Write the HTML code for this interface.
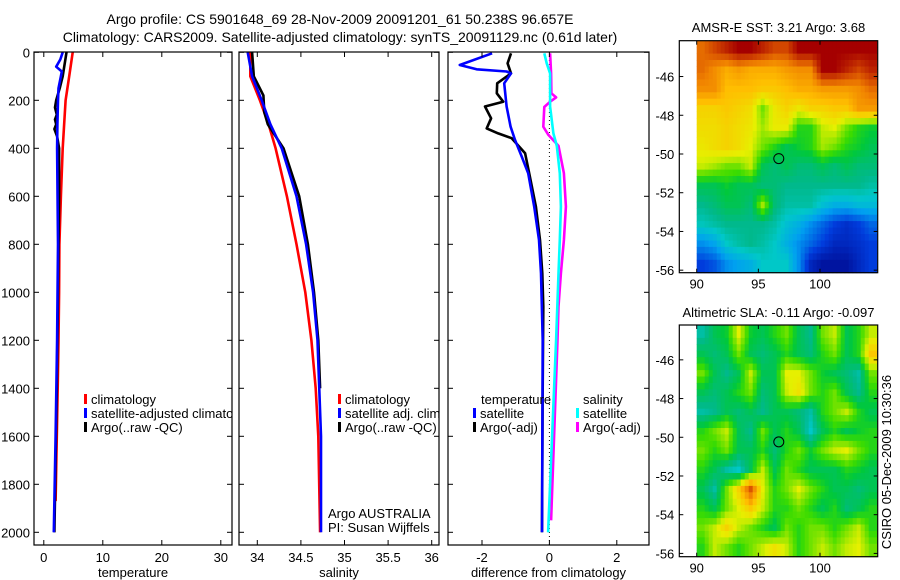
<!DOCTYPE html>
<html><head><meta charset="utf-8"><style>
body{margin:0;background:#fff}
svg{display:block;font-family:"Liberation Sans",sans-serif}
</style></head><body>
<svg id="c" width="900" height="580" viewBox="0 0 900 580">
<text x="340" y="24" font-size="14" text-anchor="middle">Argo profile: CS 5901648_69 28-Nov-2009 20091201_61 50.238S 96.657E</text>
<text x="340" y="42" font-size="14" text-anchor="middle">Climatology: CARS2009. Satellite-adjusted climatology: synTS_20091129.nc (0.61d later)</text>
<defs>
<clipPath id="cp1"><rect x="34" y="52" width="198" height="493"/></clipPath>
<clipPath id="cp2"><rect x="239" y="52" width="200" height="493"/></clipPath>
<clipPath id="cp3"><rect x="448" y="52" width="201" height="493"/></clipPath>
</defs>
<g id="g1" clip-path="url(#cp1)"></g>
<g id="g2" clip-path="url(#cp2)"></g>
<g id="g3" clip-path="url(#cp3)"></g>
<g id="axes"></g>
<g id="maps"></g>
</svg>
<script>
// ---- profile data ----
const tClimDepth=[0,100,200,400,600,800,1000,1200,1400,1600,1870];
const tClim=[4.9,4.3,3.7,3.2,2.9,2.65,2.6,2.5,2.35,2.2,2.0];
const tSatDepth=[0,30,60,80,100,150,200,300,400,800,1200,1600,2000];
const tSat=[3.2,2.8,2.1,3.05,2.9,2.5,2.4,2.3,2.25,2.4,2.25,2.0,1.7];
const tArgoDepth=[0,100,150,200,230,260,280,300,320,350,400,600,1000,1400,2000];
const tArgo=[3.85,3.2,2.7,2.1,1.9,2.2,1.9,2.1,1.8,2.25,2.6,2.6,2.4,2.2,1.8];
const sClimDepth=[0,100,200,300,400,600,800,1000,1200,1400,1600,2000];
const sClim=[33.92,33.92,34.03,34.13,34.21,34.34,34.45,34.55,34.62,34.67,34.70,34.72];
const sSatDepth=[0,100,200,300,400,600,800,1000,1200,1600,2000];
const sSat=[33.89,33.94,34.05,34.15,34.28,34.45,34.56,34.64,34.69,34.73,34.73];
const sArgoDepth=[0,100,180,250,300,400,600,800,1000,1200,1400];
const sArgo=[33.94,33.96,34.07,34.08,34.12,34.30,34.48,34.58,34.65,34.70,34.72];
const dTSatDepth=[4,53,71,80,88,129,226,310,365,435,504,643,782,921,1199,2000];
const dTSat=[-1.70,-2.66,-2.16,-1.27,-1.14,-1.34,-1.27,-1.15,-1.02,-0.82,-0.63,-0.45,-0.31,-0.25,-0.2,-0.22];
const dTArgoDepth=[4,46,88,129,171,206,226,275,317,338,358,421,504,643,782,921,1060,1400,2000];
const dTArgo=[-1.14,-1.24,-1.14,-1.55,-1.56,-1.37,-1.91,-1.73,-1.86,-1.52,-1.12,-0.72,-0.6,-0.4,-0.28,-0.21,-0.18,-0.2,-0.22];
const dSSatDepth=[4,46,88,226,338,390,504,643,782,921,1199,2000];
const dSSat=[-0.15,-0.08,0.02,0.02,0.12,0.22,0.31,0.34,0.31,0.27,0.2,-0.04];
const dSArgoDepth=[4,88,171,188,206,228,310,344,390,504,643,782,921,1060,1199,1950];
const dSArgo=[0.02,0.05,0.06,0.2,0.02,-0.15,-0.18,-0.03,0.27,0.43,0.49,0.43,0.34,0.27,0.24,0.05];
// ---- map data (normalised 0..1) ----
const sstGrid=[
[0.85,0.9,0.95,1,1,0.95,0.9,0.9,1,1,1,1,1,1,1],
[0.85,0.8,0.75,0.78,0.75,0.75,0.75,0.78,0.8,0.8,1,1,0.95,0.9,0.95],
[0.8,0.8,0.72,0.72,0.72,0.7,0.7,0.72,0.75,0.75,0.78,0.78,0.78,0.8,0.85],
[0.68,0.68,0.7,0.68,0.66,0.55,0.64,0.68,0.64,0.68,0.68,0.7,0.7,0.78,0.78],
[0.66,0.66,0.68,0.66,0.64,0.58,0.63,0.63,0.5,0.5,0.6,0.62,0.55,0.5,0.48],
[0.64,0.66,0.68,0.66,0.62,0.55,0.5,0.45,0.48,0.5,0.58,0.55,0.5,0.48,0.45],
[0.6,0.58,0.55,0.55,0.6,0.45,0.42,0.45,0.42,0.42,0.45,0.42,0.45,0.42,0.42],
[0.45,0.45,0.48,0.45,0.45,0.42,0.42,0.4,0.4,0.4,0.4,0.4,0.4,0.4,0.38],
[0.4,0.42,0.45,0.45,0.42,0.58,0.42,0.38,0.38,0.38,0.33,0.3,0.3,0.32,0.32],
[0.36,0.38,0.4,0.4,0.4,0.4,0.38,0.33,0.3,0.25,0.2,0.15,0.12,0.15,0.2],
[0.25,0.28,0.35,0.38,0.4,0.38,0.35,0.3,0.25,0.2,0.15,0.1,0.1,0.12,0.15],
[0.15,0.18,0.25,0.28,0.3,0.35,0.35,0.35,0.25,0.1,0.05,0.05,0.05,0.1,0.15]];
const slaGrid=[
[0.38,0.45,0.48,0.62,0.48,0.45,0.5,0.55,0.45,0.4,0.55,0.6,0.45,0.5,0.6],
[0.45,0.42,0.45,0.55,0.45,0.42,0.45,0.5,0.45,0.42,0.5,0.55,0.45,0.5,0.7],
[0.55,0.45,0.4,0.45,0.6,0.45,0.45,0.62,0.62,0.55,0.48,0.45,0.42,0.38,0.55],
[0.45,0.42,0.45,0.5,0.55,0.42,0.45,0.6,0.65,0.55,0.5,0.55,0.45,0.4,0.5],
[0.38,0.4,0.45,0.42,0.45,0.4,0.45,0.45,0.42,0.38,0.5,0.55,0.6,0.5,0.45],
[0.5,0.55,0.6,0.45,0.4,0.55,0.45,0.5,0.45,0.35,0.45,0.5,0.45,0.48,0.5],
[0.55,0.5,0.55,0.45,0.45,0.5,0.42,0.5,0.55,0.48,0.55,0.6,0.62,0.55,0.5],
[0.5,0.45,0.38,0.35,0.45,0.6,0.45,0.55,0.5,0.45,0.45,0.45,0.5,0.48,0.45],
[0.45,0.38,0.55,0.68,0.88,0.62,0.5,0.55,0.62,0.55,0.5,0.45,0.45,0.42,0.45],
[0.5,0.45,0.55,0.62,0.7,0.6,0.5,0.5,0.55,0.5,0.45,0.5,0.42,0.45,0.5],
[0.55,0.6,0.68,0.6,0.55,0.5,0.45,0.55,0.5,0.55,0.55,0.5,0.55,0.6,0.5],
[0.5,0.6,0.55,0.5,0.55,0.6,0.65,0.6,0.5,0.55,0.6,0.55,0.6,0.62,0.55]];
const depthTicks=[0,200,400,600,800,1000,1200,1400,1600,1800,2000];
const tTicks=[0,10,20,30];
const sTicks=[34,34.5,35,35.5,36];
const dTicks=[-2,0,2];
const latTicks=[-46,-48,-50,-52,-54,-56];
const lonTicks=[90,95,100];
const floatLon=96.657, floatLat=-50.238;

const NS='http://www.w3.org/2000/svg';
function mk(tag,attrs,parent,txt){const e=document.createElementNS(NS,tag);for(const k in attrs)e.setAttribute(k,attrs[k]);if(txt!==undefined)e.textContent=txt;parent.appendChild(e);return e;}
const yD=d=>52.3+0.24*d;
const xT=v=>43.8+5.9*v;
const xS=v=>257.3+87.2*(v-34);
const xDf=v=>549.4+33.7*v;
const axes=document.getElementById('axes');

function line(g,xf,vals,depths,color,name){
  const pts=vals.map((v,i)=>xf(v).toFixed(1)+','+yD(depths[i]).toFixed(1)).join(' ');
  const p=mk('polyline',{points:pts,fill:'none',stroke:color,'stroke-width':2.6,'stroke-linejoin':'round'},g);
  
  
}
function panel(x0,x1,xf,ticks,fmt,xlabel,yl,name){
  const r=mk('rect',{x:x0,y:52,width:x1-x0,height:493,fill:'none',stroke:'#000','stroke-width':1.2},axes);
  
  
  depthTicks.forEach(d=>{const y=yD(d);
    mk('line',{x1:x0,y1:y,x2:x0+5,y2:y,stroke:'#000'},axes);
    mk('line',{x1:x1,y1:y,x2:x1-5,y2:y,stroke:'#000'},axes);
    if(yl){const t=mk('text',{x:x0-4,y:y+5,'font-size':13,'text-anchor':'end'},axes,String(d));
      
      }
  });
  ticks.forEach(v=>{const x=xf(v);
    mk('line',{x1:x,y1:545,x2:x,y2:540,stroke:'#000'},axes);
    mk('line',{x1:x,y1:52,x2:x,y2:57,stroke:'#000'},axes);
    const t=mk('text',{x:x,y:562,'font-size':13,'text-anchor':'middle'},axes,fmt(v));
    
    
  });
  const t=mk('text',{x:(x0+x1)/2,y:577,'font-size':13,'text-anchor':'middle'},axes,xlabel);
  
  
}
panel(34,232,xT,tTicks,String,'temperature',true,'temperature-panel');
panel(239,439,xS,sTicks,String,'salinity',false,'salinity-panel');
panel(448,649,xDf,dTicks,String,'difference from climatology',false,'difference-panel');

const g1=document.getElementById('g1'),g2=document.getElementById('g2'),g3=document.getElementById('g3');
line(g1,xT,tClim,tClimDepth,'#f00','temp-climatology-line');
line(g1,xT,tArgo,tArgoDepth,'#000','temp-argo-line');
line(g1,xT,tSat,tSatDepth,'#00f','temp-satellite-line');
line(g2,xS,sClim,sClimDepth,'#f00','sal-climatology-line');
line(g2,xS,sArgo,sArgoDepth,'#000','sal-argo-line');
line(g2,xS,sSat,sSatDepth,'#00f','sal-satellite-line');
const zl=mk('line',{x1:xDf(0),y1:52,x2:xDf(0),y2:545,stroke:'#000','stroke-dasharray':'1,3'},g3);


line(g3,xDf,dTArgo,dTArgoDepth,'#000','temp-diff-argo-line');
line(g3,xDf,dTSat,dTSatDepth,'#00f','temp-diff-satellite-line');
line(g3,xDf,dSArgo,dSArgoDepth,'#f0f','sal-diff-argo-line');
line(g3,xDf,dSSat,dSSatDepth,'#0ff','sal-diff-satellite-line');

function leg(g,x,y,color,label){
  const e=mk('g',{},g);
  
  
  mk('rect',{x:x,y:y-10,width:3,height:10,fill:color},e);
  mk('text',{x:x+7,y:y,'font-size':13},e,label);
}
leg(g1,84,404,'#f00','climatology');
leg(g1,84,418,'#00f','satellite-adjusted climatology');
leg(g1,84,432,'#000','Argo(..raw -QC)');
leg(g2,338,404,'#f00','climatology');
leg(g2,338,418,'#00f','satellite adj. clim.');
leg(g2,338,432,'#000','Argo(..raw -QC)');
const lt=mk('text',{x:481,y:404,'font-size':13},g3,'temperature');


const ls=mk('text',{x:583,y:404,'font-size':13},g3,'salinity');


leg(g3,473,418,'#00f','satellite');
leg(g3,473,432,'#000','Argo(-adj)');
leg(g3,576,418,'#0ff','satellite');
leg(g3,576,432,'#f0f','Argo(-adj)');
const a1=mk('text',{x:328,y:518,'font-size':13},g2,'Argo AUSTRALIA');


const a2=mk('text',{x:328,y:532,'font-size':13},g2,'PI: Susan Wijffels');



// ---- maps ----
const maps=document.getElementById('maps');
const cmapStops=[[0,0,0,130],[0.15,0,60,220],[0.27,0,160,240],[0.35,0,200,200],[0.40,0,185,140],[0.47,0,200,60],[0.52,60,220,0],[0.62,230,240,0],[0.72,255,190,0],[0.82,240,130,0],[0.9,210,70,0],[1,165,0,0]];
function cmap(v){v=Math.max(0,Math.min(1,v));
  for(let i=1;i<cmapStops.length;i++){const a=cmapStops[i-1],b=cmapStops[i];
    if(v<=b[0]){const f=(v-a[0])/(b[0]-a[0]);
      return 'rgb('+[1,2,3].map(k=>Math.round(a[k]+f*(b[k]-a[k]))).join(',')+')';}}
  return 'rgb(165,0,0)';}
function sample(grid,fi,fj){
  const R=grid.length,C=grid[0].length;
  const i=Math.max(0,Math.min(R-1,fi-0.5)),j=Math.max(0,Math.min(C-1,fj-0.5));
  const i0=Math.floor(i),j0=Math.floor(j),i1=Math.min(R-1,i0+1),j1=Math.min(C-1,j0+1);
  const di=i-i0,dj=j-j0;
  return grid[i0][j0]*(1-di)*(1-dj)+grid[i0][j1]*(1-di)*dj+grid[i1][j0]*di*(1-dj)+grid[i1][j1]*di*dj;
}
function drawMap(grid,top,bottom,latTop,latBot,title,titleY,name){
  const L=679.3,R=877.7;
  const xL=lon=>696.7+12.33*(lon-90);
  const yL=lat=>top+(bottom-top)*(latTop-lat)/(latTop-latBot);
  const g=mk('g',{},maps);
  
  
  const rows=grid.length,cols=grid[0].length,sub=3;
  const lon0=90,lon1=104.6;
  for(let i=0;i<rows*sub;i++)for(let j=0;j<cols*sub;j++){
    const v=sample(grid,(i+0.5)/sub,(j+0.5)/sub);
    const xa=xL(lon0+(lon1-lon0)*j/(cols*sub)),xb=xL(lon0+(lon1-lon0)*(j+1)/(cols*sub));
    const ya=yL(latTop-(latTop-latBot)*i/(rows*sub)),yb=yL(latTop-(latTop-latBot)*(i+1)/(rows*sub));
    const c=mk('rect',{x:xa.toFixed(1),y:ya.toFixed(1),width:(xb-xa+0.5).toFixed(1),height:(yb-ya+0.5).toFixed(1),fill:cmap(v)},g);
    
    
  }
  mk('rect',{x:L,y:top,width:R-L,height:bottom-top,fill:'none',stroke:'#000','stroke-width':1.2},g);
  latTicks.forEach(la=>{const y=yL(la);
    mk('line',{x1:L,y1:y,x2:L+4,y2:y,stroke:'#000'},g);
    mk('line',{x1:R,y1:y,x2:R-4,y2:y,stroke:'#000'},g);
    const t=mk('text',{x:L-5,y:y+5,'font-size':13,'text-anchor':'end'},g,String(la));
    
    
  });
  lonTicks.forEach(lo=>{const x=xL(lo);
    mk('line',{x1:x,y1:bottom,x2:x,y2:bottom-4,stroke:'#000'},g);
    mk('line',{x1:x,y1:top,x2:x,y2:top+4,stroke:'#000'},g);
    const t=mk('text',{x:x,y:bottom+16,'font-size':13,'text-anchor':'middle'},g,String(lo));
    
    
  });
  const c=mk('circle',{cx:xL(floatLon),cy:yL(floatLat),r:5,fill:'none',stroke:'#000'},g);
  
  
  const t=mk('text',{x:(L+R)/2,y:titleY,'font-size':13,'text-anchor':'middle'},g,title);
  
  
}
drawMap(sstGrid,40.7,272.7,-44.15,-56.13,'AMSR-E SST: 3.21 Argo: 3.68',32,'sst-map');
drawMap(slaGrid,325,556.7,-44.2,-56.17,'Altimetric SLA: -0.11 Argo: -0.097',317,'sla-map');
const st=mk('text',{x:0,y:0,'font-size':13,'text-anchor':'middle',transform:'translate(891,462) rotate(-90)'},maps,'CSIRO 05-Dec-2009 10:30:36');


</script>
</body></html>
